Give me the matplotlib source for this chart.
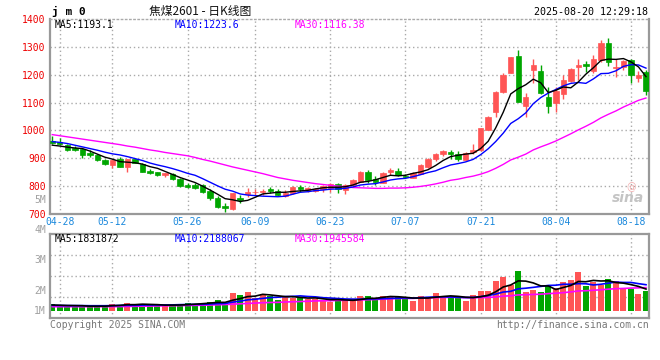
import matplotlib
matplotlib.use('Agg')
import matplotlib.pyplot as plt
from matplotlib.patches import Rectangle

# ---------------- data ----------------
dates = ['04-25', '04-28', '04-29', '04-30', '05-06', '05-07', '05-08', '05-09',
         '05-12', '05-13', '05-14', '05-15', '05-16', '05-19', '05-20', '05-21',
         '05-22', '05-23', '05-26', '05-27', '05-28', '05-29', '05-30', '06-03',
         '06-04', '06-05', '06-06', '06-09', '06-10', '06-11', '06-12', '06-13',
         '06-16', '06-17', '06-18', '06-19', '06-20', '06-23', '06-24', '06-25',
         '06-26', '06-27', '06-30', '07-01', '07-02', '07-03', '07-04', '07-07',
         '07-08', '07-09', '07-10', '07-11', '07-14', '07-15', '07-16', '07-17',
         '07-18', '07-21', '07-22', '07-23', '07-24', '07-25', '07-28', '07-29',
         '07-30', '07-31', '08-01', '08-04', '08-05', '08-06', '08-07', '08-08',
         '08-11', '08-12', '08-13', '08-14', '08-15', '08-18', '08-19', '08-20']

opens = [962, 958, 946, 937, 934, 919, 911, 893, 877, 899,
         868, 896, 881, 855, 849, 839, 843, 827, 804, 804,
         804, 783, 759, 728, 717, 758, 771, 778, 779, 790,
         783, 765, 775, 798, 786, 782, 788, 794, 807, 786,
         804, 816, 851, 827, 812, 851, 855, 838, 830, 845,
         869, 899, 914, 922, 917, 895, 923, 931, 1002, 1066,
         1139, 1207, 1268, 1089, 1218, 1214, 1121, 1098, 1131, 1176,
         1227, 1237, 1214, 1253, 1313, 1223, 1227, 1253, 1190, 1211]
highs = [980, 973, 950, 944, 938, 930, 915, 896, 893, 903,
         899, 899, 884, 860, 852, 848, 847, 830, 810, 810,
         808, 790, 763, 738, 776, 768, 794, 790, 790, 797,
         790, 786, 800, 805, 797, 795, 805, 811, 813, 808,
         825, 855, 857, 835, 850, 866, 866, 845, 852, 878,
         900, 918, 930, 930, 925, 922, 950, 1010, 1052, 1140,
         1205, 1262, 1289, 1133, 1256, 1236, 1157, 1155, 1199, 1225,
         1256, 1250, 1270, 1325, 1331, 1256, 1252, 1258, 1214, 1217]
lows = [952, 948, 925, 925, 902, 903, 892, 876, 866, 868,
        851, 882, 850, 842, 836, 833, 822, 798, 795, 788,
        775, 750, 722, 708, 716, 740, 760, 770, 770, 775,
        765, 762, 773, 780, 778, 778, 780, 778, 776, 773,
        800, 814, 812, 805, 810, 840, 838, 830, 828, 843,
        866, 890, 908, 896, 890, 893, 917, 925, 1000, 1050,
        1135, 1205, 1101, 1050, 1169, 1130, 1062, 1066, 1113, 1173,
        1181, 1210, 1205, 1245, 1232, 1191, 1218, 1169, 1173, 1127]
closes = [955, 950, 929, 930, 911, 911, 893, 878, 893, 870,
          899, 884, 852, 846, 839, 846, 825, 801, 798, 795,
          780, 756, 726, 720, 774, 750, 779, 780, 782, 783,
          768, 776, 798, 789, 794, 791, 800, 807, 789, 804,
          821, 851, 821, 816, 848, 859, 839, 834, 848, 875,
          899, 914, 925, 917, 899, 920, 929, 1008, 1050, 1137,
          1200, 1262, 1101, 1121, 1236, 1133, 1089, 1143, 1181, 1220,
          1235, 1233, 1256, 1313, 1244, 1227, 1248, 1199, 1199, 1140]

ma5 = [947, 944, 940, 937, 935, 926, 915, 904, 897, 888,
       886, 884, 879, 870, 864, 853, 842, 831, 822, 813,
       800, 786, 771, 755, 751, 745, 749, 760, 772, 775,
       778, 778, 781, 783, 785, 790, 794, 796, 796, 798,
       804, 814, 817, 823, 831, 839, 837, 839, 846, 851,
       859, 874, 892, 906, 911, 915, 918, 935, 961, 1009,
       1065, 1131, 1150, 1164, 1184, 1171, 1136, 1144, 1156, 1153,
       1174, 1202, 1225, 1251, 1256, 1255, 1258, 1246, 1228, 1193.1]
ma10 = [960, 957, 953, 947, 941, 935, 929, 922, 916, 912,
        906, 899, 892, 883, 876, 870, 863, 855, 846, 839,
        827, 814, 801, 789, 782, 772, 768, 766, 764, 763,
        762, 764, 771, 778, 780, 784, 786, 789, 790, 792,
        797, 804, 807, 809, 815, 822, 826, 828, 834, 841,
        849, 855, 866, 876, 881, 887, 896, 913, 934, 960,
        990, 1025, 1042, 1063, 1096, 1118, 1134, 1147, 1160, 1169,
        1172, 1169, 1185, 1204, 1205, 1214, 1230, 1236, 1235, 1223.6]
ma30 = [985, 981, 977, 973, 969, 965, 961, 957, 953, 949,
        944, 940, 935, 930, 926, 921, 917, 913, 909, 903,
        896, 890, 883, 876, 869, 863, 857, 851, 845, 838,
        831, 826, 821, 817, 813, 809, 806, 803, 800, 798,
        795, 794, 793, 792, 792, 793, 793, 794, 796, 799,
        803, 808, 814, 821, 825, 831, 836, 843, 852, 864,
        878, 894, 904, 915, 930, 941, 951, 962, 975, 988,
        1002, 1015, 1029, 1045, 1058, 1070, 1084, 1096, 1108, 1116.38]

# volume in millions
volume = [0.58, 0.50, 0.38, 0.38, 0.38, 0.38, 0.50, 0.38, 0.58, 0.50,
          0.67, 0.50, 0.58, 0.50, 0.38, 0.50, 0.50, 0.62, 0.67, 0.58,
          0.67, 0.75, 0.92, 0.67, 1.47, 1.33, 1.60, 1.12, 1.42, 1.25,
          0.95, 1.25, 1.12, 1.07, 1.00, 1.00, 0.92, 0.78, 1.07, 0.83,
          0.83, 1.25, 1.25, 1.12, 1.25, 1.20, 1.15, 0.98, 0.83, 1.25,
          1.20, 1.50, 1.28, 1.07, 1.07, 0.83, 1.33, 1.67, 1.67, 2.50,
          2.83, 2.17, 3.37, 1.58, 1.75, 1.58, 2.17, 1.88, 2.42, 2.58,
          3.25, 2.08, 2.42, 2.17, 2.67, 2.50, 1.83, 1.83, 1.42, 1.67]
vma5 = [0.50, 0.48, 0.46, 0.45, 0.44, 0.40, 0.40, 0.40, 0.44, 0.47,
        0.53, 0.53, 0.57, 0.55, 0.53, 0.49, 0.49, 0.50, 0.53, 0.57,
        0.61, 0.66, 0.72, 0.72, 0.90, 1.03, 1.20, 1.24, 1.39, 1.34,
        1.27, 1.20, 1.20, 1.13, 1.08, 1.09, 1.02, 0.95, 0.95, 0.92,
        0.89, 0.95, 1.05, 1.06, 1.14, 1.21, 1.19, 1.14, 1.08, 1.08,
        1.08, 1.15, 1.21, 1.26, 1.22, 1.15, 1.12, 1.19, 1.31, 1.60,
        2.00, 2.17, 2.51, 2.49, 2.34, 2.09, 2.09, 1.79, 1.96, 2.13,
        2.46, 2.44, 2.55, 2.50, 2.52, 2.37, 2.32, 2.20, 2.05, 1.83]
vma10 = [0.47, 0.46, 0.45, 0.45, 0.45, 0.44, 0.44, 0.44, 0.45, 0.46,
         0.47, 0.47, 0.49, 0.50, 0.50, 0.51, 0.51, 0.53, 0.54, 0.55,
         0.55, 0.58, 0.61, 0.63, 0.74, 0.82, 0.93, 0.98, 1.05, 1.12,
         1.15, 1.20, 1.22, 1.26, 1.21, 1.18, 1.11, 1.08, 1.04, 1.00,
         0.99, 0.99, 1.00, 1.01, 1.03, 1.05, 1.07, 1.09, 1.07, 1.11,
         1.15, 1.17, 1.18, 1.17, 1.15, 1.12, 1.13, 1.20, 1.29, 1.41,
         1.58, 1.64, 1.85, 1.90, 1.97, 2.05, 2.13, 2.15, 2.23, 2.23,
         2.28, 2.27, 2.17, 2.23, 2.32, 2.41, 2.38, 2.38, 2.28, 2.19]
vma30 = [0.36, 0.36, 0.36, 0.36, 0.36, 0.36, 0.36, 0.36, 0.36, 0.37,
         0.38, 0.39, 0.40, 0.41, 0.42, 0.43, 0.44, 0.45, 0.46, 0.47,
         0.48, 0.50, 0.52, 0.54, 0.57, 0.60, 0.63, 0.66, 0.69, 0.71,
         0.72, 0.75, 0.77, 0.79, 0.81, 0.84, 0.85, 0.86, 0.88, 0.89,
         0.90, 0.92, 0.94, 0.96, 0.99, 1.02, 1.04, 1.05, 1.05, 1.08,
         1.09, 1.12, 1.13, 1.15, 1.13, 1.12, 1.11, 1.12, 1.13, 1.17,
         1.24, 1.27, 1.34, 1.36, 1.38, 1.40, 1.45, 1.48, 1.53, 1.59,
         1.67, 1.69, 1.73, 1.77, 1.82, 1.86, 1.88, 1.91, 1.93, 1.95]

date_ticks = ['04-28', '05-12', '05-26', '06-09', '06-23', '07-07', '07-21', '08-04', '08-18']
price_ticks = [700, 800, 900, 1000, 1100, 1200, 1300, 1400]
vol_labels = ['5M', '4M', '3M', '2M', '1M']

title_code = 'j m 0'
title_name = '焦煤2601 - 日K线图'
timestamp = '2025-08-20 12:29:18'
price_legend = ['MA5:1193.1', 'MA10:1223.6', 'MA30:1116.38']
vol_legend = ['MA5:1831872', 'MA10:2188067', 'MA30:1945584']

# ---------------- style ----------------
W, H = 660, 360
RED = '#ff5555'
GREEN = '#00a600'
MONO = 'DejaVu Sans Mono'
GRID = '#aaaaaa'
SPINE = '#999999'

def fx(x):
    return x / W

def fy(y):
    return 1 - y / H

fig = plt.figure(figsize=(W / 100, H / 100), dpi=100)
fig.patch.set_facecolor('white')

ax = fig.add_axes([fx(50), fy(214), 599 / W, 195 / H])
axv = fig.add_axes([fx(50), fy(318), 599 / W, 84 / H])

n = len(dates)
xs = list(range(n))
tick_pos = [dates.index(d) for d in date_ticks]

for a in (ax, axv):
    a.set_xlim(-0.3, 79.4)
    a.set_facecolor('white')
    for x in tick_pos:
        a.axvline(x, color=GRID, lw=1, ls=(0, (1, 2)), zorder=0)
    a.tick_params(length=0)

# price panel
ax.set_ylim(700, 1400)
for p in price_ticks[1:-1]:
    ax.axhline(p, color=GRID, lw=1, ls=(0, (1, 2)), zorder=0)

bw = 0.72
for i in xs:
    o, h, l, c = opens[i], highs[i], lows[i], closes[i]
    col = RED if c >= o else GREEN
    ax.vlines(i, l, h, color=col, lw=1, zorder=2)
    lo_b = min(o, c)
    hb = max(abs(c - o), 2.0)
    ax.add_patch(Rectangle((i - bw / 2, lo_b), bw, hb, facecolor=col,
                           edgecolor=col, lw=0.5, zorder=3))

ax.plot(xs, ma30, color='#ff00ff', lw=1, zorder=4)
ax.plot(xs, ma10, color='#0000ff', lw=1, zorder=4)
ax.plot(xs, ma5, color='#000000', lw=1, zorder=4)

ax.set_yticks(price_ticks)
ax.set_yticklabels([str(p) for p in price_ticks], color='#ee0000',
                   fontfamily=MONO, fontsize=7)
ax.tick_params(axis='y', pad=3)
ax.set_xticks(tick_pos)
ax.set_xticklabels(date_ticks, color='#1a88dc', fontfamily=MONO, fontsize=7)
ax.tick_params(axis='x', pad=2)

ax.spines['left'].set_color(SPINE)
ax.spines['left'].set_linewidth(1.6)
ax.spines['bottom'].set_color(SPINE)
ax.spines['bottom'].set_linewidth(1.6)
ax.spines['right'].set_color(SPINE)
ax.spines['right'].set_linewidth(1.6)
ax.spines['top'].set_color(GRID)
ax.spines['top'].set_linestyle((0, (1, 2)))
ax.spines['top'].set_linewidth(1)

# volume panel
vlo, vhi = -0.583, 6.417
axv.set_ylim(vlo, vhi)
for f in (0.25, 0.5, 0.75):
    axv.axhline(vlo + f * (vhi - vlo), color=GRID, lw=1, ls=(0, (1, 2)), zorder=0)
vcols = [RED if closes[i] >= opens[i] else GREEN for i in xs]
axv.bar(xs, volume, width=0.8, color=vcols, zorder=2)
axv.plot(xs, vma30, color='#ff00ff', lw=1.2, zorder=4)
axv.plot(xs, vma10, color='#0000ff', lw=1.2, zorder=4)
axv.plot(xs, vma5, color='#000000', lw=1.2, zorder=4)
axv.set_xticks([])
axv.set_yticks([])
for s in axv.spines.values():
    s.set_color(SPINE)
    s.set_linewidth(1.6)

# volume axis labels (placed like the reference)
for lab, y in zip(vol_labels, [200, 230, 260, 291, 311]):
    fig.text(fx(46), fy(y), lab, ha='right', va='center', color='#a0a0a0',
             fontfamily=MONO, fontsize=7)

# header
fig.text(fx(52), fy(11), title_code, ha='left', va='center', color='black',
         fontfamily=MONO, fontsize=8, fontweight='bold')
fig.text(fx(200), fy(11), title_name, ha='center', va='center', color='#111111',
         fontfamily=['Noto Sans CJK SC', 'DejaVu Sans'], fontsize=8.5)
fig.text(fx(648), fy(12), timestamp, ha='right', va='center', color='black',
         fontfamily=MONO, fontsize=7.2)

for txt, x, col in zip(price_legend, [55, 175, 295], ['black', '#0000ff', '#ff00ff']):
    fig.text(fx(x), fy(24.5), txt, ha='left', va='center', color=col,
             fontfamily=MONO, fontsize=7)
for txt, x, col in zip(vol_legend, [55, 175, 295], ['black', '#0000ff', '#ff00ff']):
    fig.text(fx(x), fy(239.5), txt, ha='left', va='center', color=col,
             fontfamily=MONO, fontsize=7)

# footer
fig.text(fx(50), fy(324.5), 'Copyright 2025 SINA.COM', ha='left', va='center',
         color='#777777', fontfamily=MONO, fontsize=7)
fig.text(fx(649), fy(324.5), 'http://finance.sina.com.cn', ha='right', va='center',
         color='#777777', fontfamily=MONO, fontsize=7)

# watermark
fig.text(fx(628), fy(198), 'sina', ha='center', va='center', color='#c4c4c4',
         fontfamily='DejaVu Sans', fontsize=10, fontweight='bold', style='italic')
fig.text(fx(631), fy(187), '@', ha='center', va='center', color='#f2b0b0',
         fontfamily='DejaVu Sans', fontsize=7)

fig.savefig('out.png', dpi=100)
